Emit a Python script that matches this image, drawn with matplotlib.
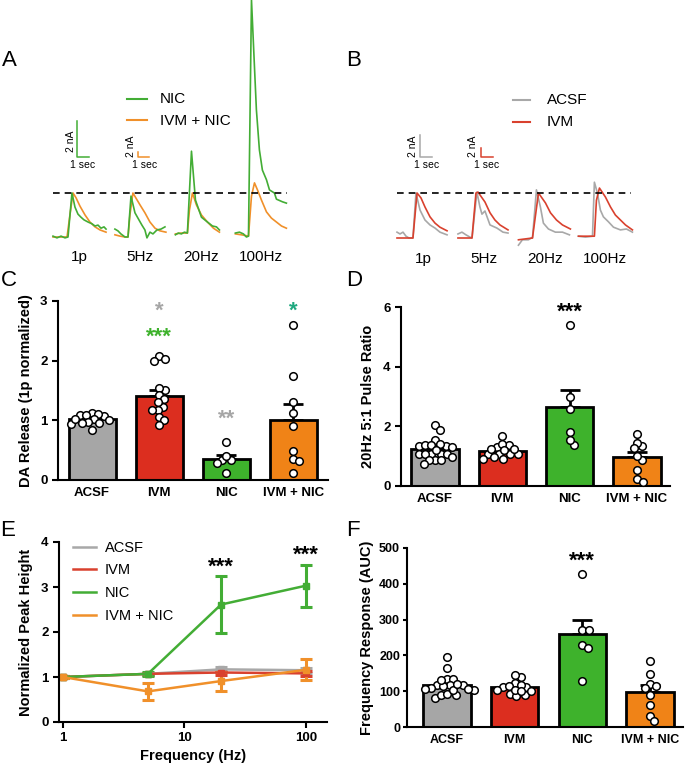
import matplotlib
matplotlib.use('Agg')
import matplotlib.pyplot as plt
import numpy as np

plt.rcParams['font.family'] = ['Liberation Sans', 'DejaVu Sans']

W, H = 685, 764

groups = ['ACSF', 'IVM', 'NIC', 'IVM + NIC']
bar_colors = ['#a6a6a6', '#dc2e1f', '#3eb22c', '#f08317']
line_colors = ['#a8a8a8', '#d9412e', '#43ad35', '#f0902a']
stims = ['1p', '5Hz', '20Hz', '100Hz']
stim_offsets = [0, 5.08, 10.12, 15.12]

# --- panel A traces (time s, amplitude rel. to 1p peak) ---
a_nic_1p = [(0, .02), (.33, -.02), (.67, .02), (1.0, -.02), (1.25, 0), (1.58, 1.0), (1.83, .68), (2.08, .52),
            (2.33, .45), (2.58, .39), (2.92, .34), (3.25, .30), (3.5, .25), (3.75, .27), (4.0, .20), (4.25, .23), (4.42, .18)]
a_ivmnic_1p = [(0, 0), (1.17, 0), (1.42, .52), (1.67, 1.0), (1.92, .89), (2.25, .70), (2.67, .50), (3.08, .34),
               (3.5, .23), (3.92, .16), (4.42, .11)]
a_nic_5hz = [(.08, .18), (.33, .14), (.58, .07), (.92, 0), (1.17, 0), (1.42, .93), (1.75, .55), (2.08, .39), (2.33, .27),
             (2.58, .16), (2.75, -.02), (3.0, .11), (3.25, .07), (3.58, .16), (3.92, .18), (4.25, .23)]
a_ivmnic_5hz = [(.08, .05), (.5, .02), (.92, 0), (1.17, 0), (1.33, .5), (1.58, 1.0), (2.17, .73), (2.58, .55), (3.0, .34),
                (3.42, .2), (3.83, .14), (4.33, .11)]
a_nic_20hz = [(.08, .05), (.33, .09), (.58, .07), (.83, .11), (1.08, .09), (1.42, 1.95), (1.75, .84), (2.25, .45),
              (2.75, .34), (3.17, .25), (3.5, .23), (3.75, .16)]
a_ivmnic_20hz = [(.08, .07), (.58, .09), (1.08, .09), (1.25, .61), (1.5, 1.0), (1.83, .73), (2.25, .5), (2.75, .34),
                 (3.25, .2), (3.75, .11)]
a_nic_100hz = [(.08, .09), (.42, .11), (.75, .07), (1.0, 0), (1.17, .02), (1.42, 5.39), (1.67, 3.86), (1.83, 2.89),
               (2.08, 1.98), (2.33, 1.52), (2.67, 1.30), (2.92, 1.07), (3.33, 1.0), (3.5, .86), (4.0, .80), (4.33, .77)]
a_ivmnic_100hz = [(.08, .07), (.58, .05), (1.17, .02), (1.42, .93), (1.67, 1.23), (1.92, 1.07), (2.25, .84), (2.67, .57),
                  (3.08, .43), (3.5, .34), (3.92, .25), (4.33, .20)]

# --- panel B traces ---
b_acsf_1p = [(0, .13), (.25, .09), (.5, .13), (.75, .04), (1.0, 0), (1.33, 0), (1.58, 1.0), (1.92, .62), (2.33, .4),
             (2.75, .29), (3.17, .22), (3.58, .13), (4.17, .07)]
b_ivm_1p = [(0, 0), (1.33, 0), (1.67, 1.0), (2.0, .89), (2.33, .69), (2.75, .47), (3.17, .33), (3.58, .24), (4.17, .16)]
b_acsf_5hz = [(0, .09), (.33, .13), (.67, .07), (1.0, .02), (1.17, 0), (1.58, 1.02), (1.83, .69), (2.0, .53), (2.25, .6),
              (2.67, .29), (3.25, .22), (3.75, .13), (4.17, .11)]
b_ivm_5hz = [(0, 0), (1.17, 0), (1.5, 1.0), (1.67, 1.02), (2.25, .8), (2.67, .56), (3.08, .4), (3.5, .29), (4.17, .18)]
b_acsf_20hz = [(0, -.16), (.33, -.04), (.83, -.04), (1.08, 0), (1.17, 0), (1.5, 1.07), (1.83, .69), (2.08, .33),
               (2.5, .2), (3.08, .13), (3.67, .13), (4.25, .07)]
b_ivm_20hz = [(0, -.04), (1.17, 0), (1.67, 1.0), (2.25, .78), (2.67, .56), (3.17, .4), (3.67, .29), (4.33, .2)]
b_acsf_100hz = [(0, .04), (.58, .02), (1.17, .04), (1.33, 1.24), (1.58, 1.0), (1.83, .62), (2.08, .47), (2.5, .36),
                (2.92, .24), (3.5, .18), (4.0, .2), (4.5, .13)]
b_ivm_100hz = [(0, .04), (1.33, .04), (1.5, .84), (1.75, 1.11), (2.25, .91), (2.67, .69), (3.08, .51), (3.5, .4),
               (3.92, .29), (4.5, .18)]

# --- panel C: DA release ---
c_means = [1.02, 1.41, 0.35, 1.00]
c_sems = [0.03, 0.10, 0.07, 0.27]
c_acsf = [1.12, 1.09, 1.07, 1.09, 1.10, 1.02, 0.98, 1.00, 0.95, 0.84, 0.94, 0.96, 1.03]
c_ivm = [2.07, 2.00, 2.02, 1.51, 1.55, 1.42, 1.23, 1.35, 1.30, 1.17, 1.17, 1.06, 1.00, 0.92]
c_nic = [0.63, 0.34, 0.33, 0.41, 0.11, 0.28]
c_ivm_nic = [2.59, 1.75, 1.30, 1.13, 0.91, 0.49, 0.35, 0.32, 0.11]
c_stars = [(1, 2.96, '*', '#a6a6a6'), (1, 2.51, '***', '#3eb22c'), (2, 1.14, '**', '#a6a6a6'), (3, 2.96, '*', '#1ea87f')]

# --- panel D: pulse ratio ---
d_means = [1.25, 1.18, 2.64, 0.97]
d_sems = [0.08, 0.06, 0.58, 0.18]
d_acsf = [2.03, 1.89, 1.34, 1.34, 1.53, 1.36, 1.36, 1.08, 1.08, 1.08, 1.08, 1.08, 0.88, 0.88, 1.31, 0.86, 0.73, 0.97, 1.42, 1.22]
d_ivm = [1.68, 1.36, 1.31, 1.40, 1.06, 1.08, 1.08, 1.08, 0.92, 0.92, 0.97, 1.20, 1.25, 1.25]
d_nic = [5.39, 2.98, 2.59, 1.81, 1.39, 1.55]
d_ivm_nic = [1.73, 1.34, 1.45, 1.27, 0.86, 1.00, 0.55, 0.22, 0.13]
d_stars = [(2, 6.07, '***', 'black')]

# --- panel E: peak height vs frequency ---
freqs = [1, 5, 20, 100]
e_acsf = [1.0, 1.07, 1.17, 1.15]
e_acsf_sem = [0.02, 0.03, 0.06, 0.06]
e_ivm = [1.0, 1.07, 1.10, 1.08]
e_ivm_sem = [0.02, 0.03, 0.05, 0.06]
e_nic = [1.0, 1.07, 2.61, 3.03]
e_nic_sem = [0.02, 0.05, 0.63, 0.47]
e_ivm_nic = [1.0, 0.68, 0.91, 1.16]
e_ivm_nic_sem = [0.03, 0.18, 0.21, 0.23]
e_stars = [(20, 3.6, '***'), (100, 3.86, '***')]

# --- panel F: AUC ---
f_means = [117, 111, 260, 98]
f_sems = [7, 6, 39, 19]
f_acsf = [196, 165, 134, 134, 118, 118, 118, 114, 104, 109, 106, 107, 88, 81, 90, 92, 104, 132, 120]
f_ivm = [141, 146, 111, 123, 111, 118, 114, 92, 88, 86, 104, 100, 104, 100]
f_nic = [426, 270, 270, 230, 221, 128]
f_ivm_nic = [183, 148, 120, 109, 114, 88, 61, 30, 18]
f_stars = [(2, 485, '***', 'black')]


def px_axes(fig, left, top, right, bottom):
    return fig.add_axes([left / W, 1 - bottom / H, (right - left) / W, (bottom - top) / H])


def star(ax, x, y, text, color):
    ax.annotate(text, xy=(x, y), xytext=(0, -9.3), textcoords='offset points', ha='center', va='baseline',
                fontsize=16, fontweight='bold', color=color, annotation_clip=False)


def swarm_x(ax, center, vals, gap=6.3):
    # simple beeswarm in display pixels
    pts = ax.transData.transform(np.column_stack([np.full(len(vals), center), vals]))
    ys = pts[:, 1]
    xs = np.zeros(len(vals))
    placed = []
    for i in np.argsort(-ys):
        cands = [0.0]
        for xj, yj in placed:
            dy = abs(ys[i] - yj)
            if dy < gap:
                dx = np.sqrt(gap ** 2 - dy ** 2)
                cands += [xj + dx, xj - dx]
        cands.sort(key=abs)
        for c in cands:
            if all((c - xj) ** 2 + (ys[i] - yj) ** 2 >= gap ** 2 - 1e-6 for xj, yj in placed):
                break
        xs[i] = c
        placed.append((c, ys[i]))
    pts[:, 0] += xs
    return ax.transData.inverted().transform(pts)[:, 0]


def trace_panel(ax, x_px, pairs_a, pairs_b, col_a, col_b, x0, base, amp):
    ax.set_xlim((x_px[0] - x0) / 12, (x_px[1] - x0) / 12)
    ax.set_ylim((base - 270) / amp, base / amp)
    ax.axis('off')
    for off, tr_a, tr_b, lab in zip(stim_offsets, pairs_a, pairs_b, stims):
        for tr, col in [(tr_a, col_a), (tr_b, col_b)]:
            t, y = zip(*tr)
            ax.plot(np.array(t) + off, y, color=col, lw=1.2, clip_on=False)
        ax.text(off + 2.2, -0.46, lab, ha='center', va='center', fontsize=11)
    ax.plot([0, 19.5], [1, 1], color='black', lw=1.2, dashes=(4, 3))


def style_axes(ax, labelsize=9.5):
    for s in ['top', 'right']:
        ax.spines[s].set_visible(False)
    for s in ['left', 'bottom']:
        ax.spines[s].set_linewidth(1.5)
    ax.tick_params(width=1.5, length=4, labelsize=labelsize)
    for lab in ax.get_xticklabels() + ax.get_yticklabels():
        lab.set_fontweight('bold')


def bar_panel(ax, values, means, sems, xlim, ymax, yticks, ylabel, stars, label_x, labelsize=9.5):
    pos = np.arange(len(groups))
    ax.set_xlim(*xlim)
    ax.set_ylim(0, ymax)
    ax.bar(pos, means, width=0.7, color=bar_colors, edgecolor='black', linewidth=2, zorder=2)
    ax.errorbar(pos, means, yerr=[np.zeros(len(pos)), sems], fmt='none', ecolor='black',
                elinewidth=2, capsize=7, capthick=2, zorder=1)
    for p, vals in zip(pos, values):
        ax.scatter(swarm_x(ax, p, vals), vals, s=30, facecolor='white', edgecolor='black',
                   linewidth=1.1, zorder=3, clip_on=False)
    for gi, yv, txt, col in stars:
        star(ax, gi, yv, txt, col)
    ax.set_yticks(yticks)
    ax.set_xticks(pos, groups)
    ax.set_ylabel(ylabel, fontsize=10.5, fontweight='bold')
    ax.yaxis.set_label_coords(label_x, 0.5)
    style_axes(ax, labelsize)
    ax.tick_params(axis='x', length=0, pad=5)


fig = plt.figure(figsize=(W / 100, H / 100), dpi=100)

# panel A
ax_a = px_axes(fig, 40, 0, 300, 270)
trace_panel(ax_a, (40, 300), [a_ivmnic_1p, a_ivmnic_5hz, a_ivmnic_20hz, a_ivmnic_100hz],
            [a_nic_1p, a_nic_5hz, a_nic_20hz, a_nic_100hz], line_colors[3], line_colors[2], 53, 237, 44)
ax_a.plot([6.17, 7.83], [3.14, 3.14], color=line_colors[2], lw=1.5)
ax_a.text(8.92, 3.14, 'NIC', va='center', fontsize=11)
ax_a.plot([6.17, 7.83], [2.66, 2.66], color=line_colors[3], lw=1.5)
ax_a.text(8.92, 2.64, 'IVM + NIC', va='center', fontsize=11)
ax_a.plot([2.0, 2.0, 3.0], [2.64, 1.82, 1.82], color=line_colors[2], lw=1.1)
ax_a.text(1.5, 2.18, '2 nA', rotation=90, ha='center', va='center', fontsize=7.5)
ax_a.text(2.5, 1.64, '1 sec', ha='center', va='center', fontsize=7.5)
ax_a.plot([7.08, 7.08, 8.0], [1.94, 1.82, 1.82], color=line_colors[3], lw=1.1)
ax_a.text(6.5, 2.07, '2 nA', rotation=90, ha='center', va='center', fontsize=7.5)
ax_a.text(7.6, 1.64, '1 sec', ha='center', va='center', fontsize=7.5)

# panel B
ax_b = px_axes(fig, 385, 0, 685, 270)
trace_panel(ax_b, (385, 685), [b_acsf_1p, b_acsf_5hz, b_acsf_20hz, b_acsf_100hz],
            [b_ivm_1p, b_ivm_5hz, b_ivm_20hz, b_ivm_100hz], line_colors[0], line_colors[1], 397, 238, 45)
ax_b.plot([9.67, 11.08], [3.07, 3.07], color=line_colors[0], lw=1.5)
ax_b.text(12.5, 3.07, 'ACSF', va='center', fontsize=11)
ax_b.plot([9.67, 11.08], [2.58, 2.58], color=line_colors[1], lw=1.5)
ax_b.text(12.5, 2.58, 'IVM', va='center', fontsize=11)
ax_b.plot([1.92, 1.92, 2.92], [2.29, 1.8, 1.8], color=line_colors[0], lw=1.1)
ax_b.text(1.33, 2.04, '2 nA', rotation=90, ha='center', va='center', fontsize=7.5)
ax_b.text(2.5, 1.62, '1 sec', ha='center', va='center', fontsize=7.5)
ax_b.plot([7.0, 7.0, 8.0], [2.0, 1.8, 1.8], color=line_colors[1], lw=1.1)
ax_b.text(6.33, 2.03, '2 nA', rotation=90, ha='center', va='center', fontsize=7.5)
ax_b.text(7.5, 1.62, '1 sec', ha='center', va='center', fontsize=7.5)

# panel C
ax_c = px_axes(fig, 58, 301, 328, 480)
bar_panel(ax_c, [c_acsf, c_ivm, c_nic, c_ivm_nic], c_means, c_sems, (-0.51, 3.52), 3, [0, 1, 2, 3],
          'DA Release (1p normalized)', c_stars, -0.093)

# panel D
ax_d = px_axes(fig, 401, 307, 670, 486)
bar_panel(ax_d, [d_acsf, d_ivm, d_nic, d_ivm_nic], d_means, d_sems, (-0.505, 3.49), 6, [0, 2, 4, 6],
          '20Hz 5:1 Pulse Ratio', d_stars, -0.097)

# panel E
ax_e = px_axes(fig, 59, 542, 327, 722)
e_series = [(e_acsf, e_acsf_sem), (e_ivm, e_ivm_sem), (e_nic, e_nic_sem), (e_ivm_nic, e_ivm_nic_sem)]
for (vals, sem), col, name in zip(e_series, line_colors, groups):
    ax_e.errorbar(freqs, vals, yerr=sem, color=col, lw=1.8, marker='s', markersize=5,
                  elinewidth=2.2, capsize=4.5, capthick=2.2, label=name)
ax_e.set_xscale('log')
ax_e.set_xlim(0.927, 148.9)
ax_e.set_ylim(0, 4)
ax_e.set_xticks([1, 10, 100], ['1', '10', '100'])
ax_e.xaxis.set_minor_locator(matplotlib.ticker.NullLocator())
ax_e.set_yticks([0, 1, 2, 3, 4])
for fx, yv, txt in e_stars:
    star(ax_e, fx, yv, txt, 'black')
ax_e.set_ylabel('Normalized Peak Height', fontsize=10.5, fontweight='bold')
ax_e.yaxis.set_label_coords(-0.097, 0.5)
ax_e.set_xlabel('Frequency (Hz)', fontsize=10.5, fontweight='bold', labelpad=3)
style_axes(ax_e)
handles = [matplotlib.lines.Line2D([], [], color=c, lw=1.8) for c in line_colors]
ax_e.legend(handles, groups, loc='upper left', bbox_to_anchor=(0.03, 1.04), frameon=False, fontsize=10.5,
            handlelength=1.6, handletextpad=0.6, labelspacing=0.6, borderaxespad=0)

# panel F
ax_f = px_axes(fig, 407, 548, 683, 727)
bar_panel(ax_f, [f_acsf, f_ivm, f_nic, f_ivm_nic], f_means, f_sems, (-0.59, 3.49), 500, [0, 100, 200, 300, 400, 500],
          'Frequency Response (AUC)', f_stars, -0.118, labelsize=9)
ax_f.tick_params(axis='y', length=3, pad=2)

for letter, x, y in [('A', 9, 61), ('B', 354, 61), ('C', 9, 281), ('D', 354, 281), ('E', 8, 531), ('F', 353, 531)]:
    fig.text(x / W, 1 - y / H, letter, ha='center', va='center', fontsize=16)

fig.savefig('out.png', dpi=100)
